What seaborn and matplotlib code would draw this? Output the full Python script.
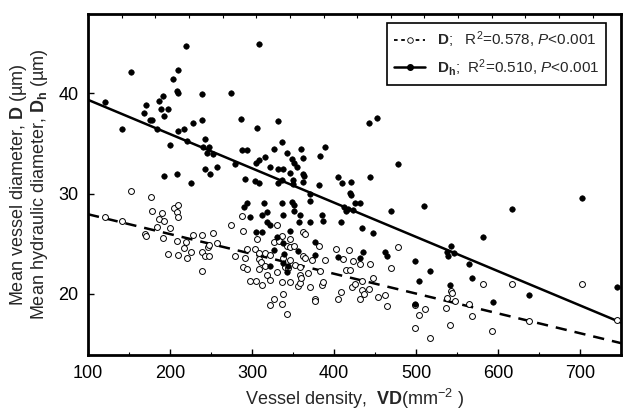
import numpy as np
import pandas as pd
import matplotlib
matplotlib.use("Agg")
import matplotlib.pyplot as plt
from matplotlib.lines import Line2D
import seaborn as sns

# ---- data ----
vd_d = [152,177,121,141,178,190,186,193,205,210,208,210,184,200,169,171,192,208,219,228,
        239,252,257,246,248,217,225,197,210,221,239,243,248,239,274,288,289,306,294,304,
        309,316,322,327,330,291,279,308,311,316,308,289,294,330,318,322,298,305,312,327,
        322,337,346,356,358,370,385,387,377,377,338,337,343,405,409,422,425,434,436,431,
        443,453,462,464,511,503,499,517,498,362,364,337,346,342,346,351,362,364,373,381,
        389,338,346,340,344,352,358,358,360,368,383,402,418,411,423,431,444,415,419,478,
        469,447,434,333,543,544,537,547,536,564,568,541,581,617,593,637,702,745]
d_val = [30.2,29.7,27.7,27.3,28.3,28.1,27.5,27.3,28.6,28.9,28.2,27.7,26.7,26.6,26.0,25.8,25.6,25.3,25.2,25.9,
         25.9,26.1,25.1,24.7,24.9,24.6,24.2,24.0,23.9,23.6,24.2,23.8,23.8,22.3,26.9,27.8,26.3,25.5,24.5,24.5,
         24.1,24.1,23.9,25.2,26.9,23.6,23.8,23.5,23.2,22.8,22.5,22.7,22.5,22.2,21.9,21.4,21.3,21.3,20.9,19.5,
         18.9,21.2,21.2,20.8,21.1,20.7,20.9,21.2,19.5,19.3,20.0,19.0,18.0,19.5,20.2,20.7,21.0,20.4,20.0,19.5,
         20.5,19.7,19.9,18.8,18.5,17.9,16.6,15.6,18.9,26.2,26.0,25.8,25.5,24.8,24.7,24.8,23.8,23.6,23.4,24.8,
         23.4,23.6,23.4,22.7,22.6,22.9,22.7,21.9,21.6,22.1,22.3,24.5,24.4,23.5,23.3,23.0,23.0,22.4,22.4,24.7,
         22.6,21.6,21.3,25.3,20.3,20.1,19.6,19.3,18.6,19.0,17.8,16.9,21.0,21.0,16.3,17.3,21.0,17.4]

vd_dh = [121,152,219,204,210,208,210,191,186,171,189,197,168,193,178,176,141,184,210,217,
         228,239,239,274,308,287,331,306,221,243,200,240,248,245,252,257,243,249,193,208,
         225,279,288,294,327,316,308,305,322,291,304,309,331,290,294,298,315,318,312,318,
         322,305,312,330,327,322,443,452,336,360,343,362,349,351,389,383,355,331,338,346,
         362,363,478,444,405,410,421,381,336,350,362,350,371,337,349,351,370,338,351,359,
         357,370,385,387,409,412,414,417,423,419,421,425,431,469,510,434,447,346,338,377,
         356,339,338,344,377,405,431,435,462,464,498,517,503,499,537,539,343,543,546,564,
         581,617,702,568,541,594,637,745]
dh_val = [39.1,42.1,44.7,41.4,42.3,40.2,40.0,39.7,39.2,38.8,38.4,38.4,38.0,37.7,37.3,37.3,36.4,36.4,36.2,36.4,
          37.0,37.3,39.9,40.0,44.9,37.4,37.2,36.5,35.2,35.4,34.8,34.6,34.6,34.0,33.9,32.6,32.4,31.9,31.7,31.9,
          31.0,32.9,34.3,34.3,34.4,33.6,33.3,33.0,32.6,31.4,31.2,31.0,31.0,28.7,29.1,27.7,29.1,28.2,27.9,27.2,
          26.9,26.2,26.2,25.7,24.4,22.8,37.0,37.5,35.1,34.4,34.0,33.5,33.4,33.0,34.6,33.7,32.6,32.4,32.4,32.0,
          31.9,31.7,32.9,31.6,31.6,31.0,31.1,30.8,31.3,31.3,31.1,30.9,30.0,29.1,29.2,28.9,29.3,27.9,28.3,27.9,
          27.2,27.2,27.9,27.3,27.2,28.7,28.3,28.5,28.4,30.1,29.9,29.1,29.1,28.3,28.8,26.6,26.1,26.3,25.1,25.2,
          24.3,24.0,23.1,22.8,23.9,23.7,23.6,24.2,24.2,23.8,23.3,22.3,21.3,19.0,24.2,23.8,22.2,24.8,24.1,23.0,
          25.7,28.5,29.6,21.6,20.9,19.2,19.9,20.7]

# regression fits (intercept, slope)
fit_d = (29.91, -0.01978)
fit_dh = (42.76, -0.03418)
legend_labels = [r"$\mathbf{D}$;   R$^2$=0.578, $\mathit{P}$<0.001",
                 r"$\mathbf{D_h}$;  R$^2$=0.510, $\mathit{P}$<0.001"]

sns.set_theme(style="white")
plt.rcParams["font.family"] = ["Liberation Sans", "DejaVu Sans"]
plt.rcParams["mathtext.fontset"] = "custom"
plt.rcParams["mathtext.rm"] = "Liberation Sans"
plt.rcParams["mathtext.it"] = "Liberation Sans:italic"
plt.rcParams["mathtext.bf"] = "Liberation Sans:bold"

fig = plt.figure(figsize=(6.25, 4.11), dpi=100)
ax = fig.add_axes([0.1408, 0.1363, 0.8532, 0.8297])

df_d = pd.DataFrame({"VD": vd_d, "val": d_val})
df_dh = pd.DataFrame({"VD": vd_dh, "val": dh_val})

xlim = (100, 750)
xs = np.array(xlim, dtype=float)
line_d = pd.DataFrame({"VD": xs, "val": fit_d[0] + fit_d[1] * xs})
line_dh = pd.DataFrame({"VD": xs, "val": fit_dh[0] + fit_dh[1] * xs})

sns.lineplot(data=line_d, x="VD", y="val", ax=ax, color="black", lw=1.8,
             linestyle=(0, (4.5, 3.2)), zorder=2)
sns.lineplot(data=line_dh, x="VD", y="val", ax=ax, color="black", lw=1.8, zorder=2)
sns.scatterplot(data=df_d, x="VD", y="val", ax=ax, s=18, facecolor="white",
                edgecolor="black", linewidth=0.7, zorder=3)
sns.scatterplot(data=df_dh, x="VD", y="val", ax=ax, s=16, color="black",
                edgecolor="black", linewidth=0.4, zorder=4)

ax.set_xlim(*xlim)
ax.set_ylim(13.9, 47.9)
ax.set_xticks([100, 200, 300, 400, 500, 600, 700])
ax.set_xticks(np.arange(150, 750, 100), minor=True)
ax.set_yticks([20, 30, 40])
ax.tick_params(axis="both", which="major", direction="in", length=4, width=1,
               labelsize=13, color="black", labelcolor="black", pad=7,
               bottom=True, left=True)
ax.tick_params(axis="x", which="minor", direction="in", length=2.5, width=0.8,
               bottom=True, color="black")
for sp in ax.spines.values():
    sp.set_linewidth(2.0)
    sp.set_color("black")

# top ticks
ax2 = ax.twiny()
ax2.set_xlim(0, 15.85)
ax2.set_xticks(np.arange(1, 16))
ax2.tick_params(axis="x", which="major", direction="in", length=3, width=0.8,
                labeltop=False, top=True, color="black")
for sp in ax2.spines.values():
    sp.set_visible(False)

ax.set_xlabel(r"Vessel density,  $\mathbf{VD}$(mm$^{-2}$ )", fontsize=13, labelpad=4)
ax.set_ylabel("Mean vessel diameter, $\\mathbf{D}$ (\u00b5m)\n"
              "Mean hydraulic diameter, $\\mathbf{D_h}$ (\u00b5m)",
              fontsize=13, labelpad=6, linespacing=1.0)

handles = [Line2D([0], [0], color="black", lw=1.3, linestyle=(0, (2, 2)),
                  marker="o", markersize=4, markerfacecolor="white",
                  markeredgecolor="black", markeredgewidth=0.6),
           Line2D([0], [0], color="black", lw=1.8, marker="o", markersize=4,
                  markerfacecolor="black", markeredgecolor="black")]
leg = ax.legend(handles, legend_labels, loc="upper right",
                bbox_to_anchor=(0.972, 0.974), borderaxespad=0, fontsize=11,
                frameon=True, fancybox=False, edgecolor="black", framealpha=1,
                handlelength=2.0, handletextpad=0.8, borderpad=0.45,
                labelspacing=0.45, markerfirst=True)
leg.get_frame().set_linewidth(1.2)

fig.savefig("out.png", dpi=100)
